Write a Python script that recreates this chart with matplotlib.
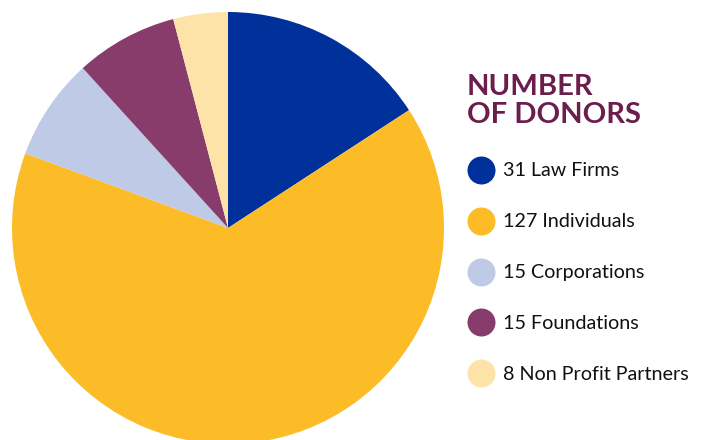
import matplotlib
matplotlib.use('Agg')
import matplotlib.pyplot as plt

# Datos del gráfico
categorias = ['Law Firms', 'Individuals', 'Corporations', 'Foundations', 'Non Profit Partners']
donantes = [31, 127, 15, 15, 8]
colores = ['#00309a', '#fbbc28', '#bfcae6', '#873c6c', '#fde3a7']
titulo = 'NUMBER\nOF DONORS'

W, H = 706, 440
fig = plt.figure(figsize=(W/100, H/100), dpi=100)

# Pastel: centro (228, 228), radio 216 px
cx, cy, r = 228, 228, 216
ax = fig.add_axes([(cx - r)/W, (H - cy - r)/H, 2*r/W, 2*r/H])
ax.pie(donantes, colors=colores, startangle=90, counterclock=False,
       radius=1, wedgeprops=dict(linewidth=0))
ax.set_xlim(-1, 1)
ax.set_ylim(-1, 1)
ax.set_aspect('equal')
ax.axis('off')

# Leyenda en coordenadas de pixel
lg = fig.add_axes([0, 0, 1, 1])
lg.set_xlim(0, W)
lg.set_ylim(H, 0)
lg.axis('off')

lg.text(467, 101, titulo, color='#6b1d4c', fontsize=21, fontweight='bold',
        family='Lato', va='center', ha='left', linespacing=1.12)

y0, dy = 170, 50.8
for i, (cat, n, c) in enumerate(zip(categorias, donantes, colores)):
    y = y0 + i*dy
    lg.scatter([481], [y], s=(28*0.72)**2, color=c, linewidths=0)
    lg.text(503, y + 1, f'{n} {cat}', fontsize=14.2, family='Lato',
            color='#111111', va='center', ha='left')

fig.savefig('out.png', dpi=100)
